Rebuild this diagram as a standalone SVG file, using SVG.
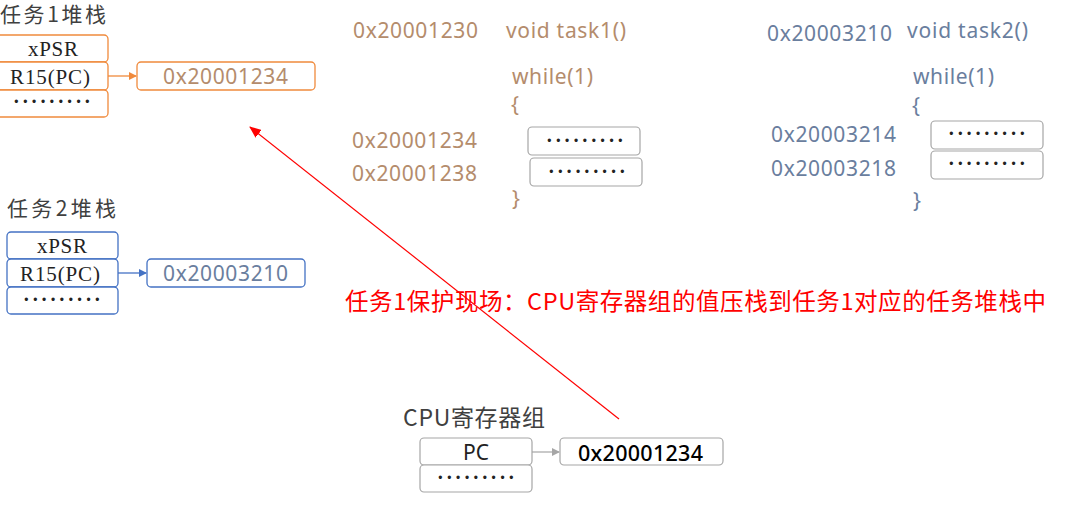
<svg xmlns="http://www.w3.org/2000/svg" width="1080" height="512" viewBox="0 0 1080 512">
<style>
.title{font-family:"Noto Sans CJK SC","Noto Sans",sans-serif;font-size:21px;fill:#404040}
.serif{font-family:"Liberation Serif","Noto Sans CJK SC",serif;font-size:21px;fill:#222;text-anchor:middle}
.dots{font-family:"Liberation Serif",serif;font-size:20px;font-weight:bold;fill:#222;text-anchor:middle;letter-spacing:2.2px}
.o{fill:#fff;stroke:#F08A3C;stroke-width:1.3}
.b{fill:#fff;stroke:#4472C4;stroke-width:1.3}
.g{fill:#fff;stroke:#A6A6A6;stroke-width:1.2}
.brn{font-family:"Noto Sans","Liberation Sans",sans-serif;font-size:21px;fill:#B48C6C}
.blu{font-family:"Noto Sans","Liberation Sans",sans-serif;font-size:21px;fill:#6A7E9E}
.red{font-family:"Noto Sans CJK SC","Noto Sans",sans-serif;font-size:23.5px;fill:#FF0000}
</style>
<defs>
<marker id="ao" markerWidth="8" markerHeight="8" refX="7" refY="4" orient="auto" markerUnits="userSpaceOnUse"><path d="M0,0 L8,4 L0,8 z" fill="#F08A3C"/></marker>
<marker id="ab" markerWidth="8" markerHeight="8" refX="7" refY="4" orient="auto" markerUnits="userSpaceOnUse"><path d="M0,0 L8,4 L0,8 z" fill="#4472C4"/></marker>
<marker id="ag" markerWidth="8" markerHeight="8" refX="7" refY="4" orient="auto" markerUnits="userSpaceOnUse"><path d="M0,0 L8,4 L0,8 z" fill="#A6A6A6"/></marker>
<marker id="ar" markerWidth="12" markerHeight="10" refX="11" refY="5" orient="auto" markerUnits="userSpaceOnUse"><path d="M0,0 L12,5 L0,10 z" fill="#FF0000"/></marker>
</defs>

<g id="task1-stack">
<text class="title" x="0" y="22" textLength="106">任务1堆栈</text>
<rect class="o" x="-6" y="35" width="114" height="27" rx="4"/>
<rect class="o" x="-6" y="62" width="114" height="28" rx="4"/>
<rect class="o" x="-6" y="90" width="114" height="27" rx="4"/>
<text class="serif" x="53" y="56" textLength="50">xPSR</text>
<text class="serif" x="50" y="84" textLength="80">R15(PC)</text>
<text class="dots" x="53" y="108">·········</text>
</g>
<g id="task1-pc">
<rect class="o" x="137" y="62" width="178" height="28" rx="4"/>
<text class="brn" x="163" y="84" textLength="125">0x20001234</text>
</g>

<g id="task2-stack">
<text class="title" x="7" y="216" textLength="109">任务2堆栈</text>
<rect class="b" x="7" y="232" width="111" height="27" rx="4"/>
<rect class="b" x="7" y="259" width="111" height="28" rx="4"/>
<rect class="b" x="7" y="287" width="111" height="27" rx="4"/>
<text class="serif" x="62" y="253" textLength="50">xPSR</text>
<text class="serif" x="60" y="281" textLength="80">R15(PC)</text>
<text class="dots" x="63" y="306">·········</text>
</g>
<g id="task2-pc">
<rect class="b" x="147" y="259" width="158" height="28" rx="4"/>
<text class="blu" x="163" y="281" textLength="125">0x20003210</text>
</g>

<g id="task1-code">
<text class="brn" x="353" y="38" textLength="125">0x20001230</text>
<text class="brn" x="506" y="38" textLength="120">void task1()</text>
<text class="brn" x="512" y="84" textLength="81">while(1)</text>
<text class="brn" x="511" y="112">{</text>
<text class="brn" x="352" y="148" textLength="125">0x20001234</text>
<text class="brn" x="352" y="181" textLength="125">0x20001238</text>
<rect class="g" x="528" y="127" width="112" height="28" rx="4"/>
<rect class="g" x="530" y="158" width="112" height="28" rx="4"/>
<text class="dots" x="586" y="147">·········</text>
<text class="dots" x="588" y="178">·········</text>
<text class="brn" x="512" y="206">}</text>
</g>

<g id="task2-code">
<text class="blu" x="767" y="41" textLength="125">0x20003210</text>
<text class="blu" x="907" y="38" textLength="121">void task2()</text>
<text class="blu" x="913" y="84" textLength="81">while(1)</text>
<text class="blu" x="912" y="113">{</text>
<text class="blu" x="771" y="142" textLength="125">0x20003214</text>
<text class="blu" x="771" y="176" textLength="125">0x20003218</text>
<rect class="g" x="931" y="121" width="112" height="28" rx="4"/>
<rect class="g" x="931" y="151" width="112" height="28" rx="4"/>
<text class="dots" x="988" y="140">·········</text>
<text class="dots" x="988" y="170">·········</text>
<text class="blu" x="913" y="208">}</text>
</g>

<g id="note">
<text class="red" x="345" y="310" textLength="701">任务1保护现场：CPU寄存器组的值压栈到任务1对应的任务堆栈中</text>
</g>

<g id="cpu-regs">
<text class="title" x="403" y="426" textLength="142" style="font-size:23px">CPU寄存器组</text>
<rect class="g" x="420" y="438" width="112" height="27" rx="4"/>
<rect class="g" x="420" y="465" width="112" height="27" rx="4"/>
<text x="476" y="460" text-anchor="middle" style="font-family:'Noto Sans',sans-serif;font-size:21px;fill:#222">PC</text>
<text class="dots" x="477" y="484">·········</text>
</g>
<g id="cpu-pc">
<rect class="g" x="560" y="438" width="163" height="27" rx="4"/>
<text x="578" y="461" textLength="125" style="font-family:'Noto Sans',sans-serif;font-size:21.5px;font-weight:500;fill:#000">0x20001234</text>
</g>

<g id="connectors">
<line x1="108" y1="76" x2="136" y2="76" stroke="#F08A3C" stroke-width="1.3" marker-end="url(#ao)"/>
<line x1="118" y1="273" x2="146" y2="273" stroke="#4472C4" stroke-width="1.3" marker-end="url(#ab)"/>
<line x1="532" y1="452" x2="559" y2="452" stroke="#A6A6A6" stroke-width="1.2" marker-end="url(#ag)"/>
<line x1="619" y1="419" x2="250" y2="127" stroke="#FF0000" stroke-width="1.2" marker-end="url(#ar)"/>
</g>
</svg>
